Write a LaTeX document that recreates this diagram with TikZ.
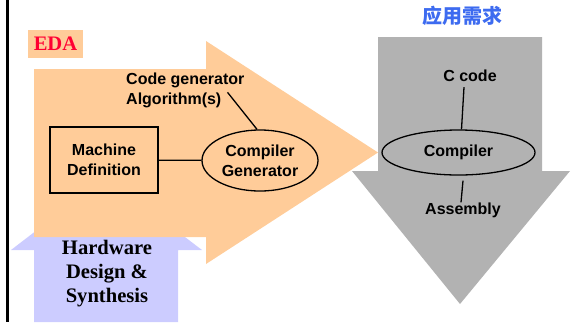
\documentclass[tikz,border=0pt]{standalone}
\usepackage{fontspec}
\setmainfont{Liberation Serif}
\setsansfont{Liberation Sans}
\newfontfamily\cjkfont{Noto Sans CJK SC}
\usepackage{xcolor}
\usetikzlibrary{shapes.geometric}
\definecolor{edaorange}{HTML}{FFCC99}
\definecolor{hwblue}{HTML}{CCCCFF}
\definecolor{appgray}{HTML}{B2B2B2}
\definecolor{edared}{HTML}{FF0033}
\definecolor{titleblue}{HTML}{3D6BF0}
\tikzset{
    lbl/.style={font=\sffamily\bfseries\fontsize{16}{20}\selectfont, align=center, inner sep=0pt},
    machbox/.style={lbl, draw=black, line width=1.3pt, minimum width=108pt, minimum height=66pt},
    oval/.style={lbl, ellipse, draw=black, line width=1.3pt},
    wire/.style={black, line width=1.3pt},
    serifbig/.style={font=\rmfamily\bfseries\fontsize{20.6}{24}\selectfont, align=center, inner sep=0pt}
}

\begin{document}
\begin{tikzpicture}[x=1pt,y=-1pt]
    \useasboundingbox (0,0) rectangle (577,322);
    % Draw left border line
    \draw[black, line width=3pt] (7,0) -- (7,322);
    % Draw blue arrow (its tip lies under the orange one)
    \fill[hwblue] (34,322) -- (34,250) -- (11,250) -- (106,177) -- (202,250) -- (178,250) -- (178,322) -- cycle;
    % Draw orange arrow
    \fill[edaorange] (34,69) -- (206,69) -- (206,41) -- (378,152.5) -- (206,264) -- (206,237) -- (34,237) -- cycle;
    % Draw gray arrow
    \fill[appgray] (378,37) -- (542,37) -- (542,171) -- (570,171) -- (460,304) -- (352,171) -- (378,171) -- cycle;
    % Labels of the arrows
    \node[serifbig, fill=edaorange, text=edared, minimum width=55pt, minimum height=28pt] (eda) at (55.5,44) {EDA};
    \node[font=\cjkfont\bfseries\fontsize{20}{24}\selectfont, text=titleblue, inner sep=0pt] (title) at (462,16) {应用需求};
    \node[serifbig, text=black] (hw) at (107,274) {Hardware\\Design \&\\Synthesis};
    % EDA side
    \node[machbox] (mach) at (104,160) {Machine\\Definition};
    \node[oval, minimum width=116pt, minimum height=61pt] (cgen) at (260,160.5) {Compiler\\Generator};
    \node[lbl, anchor=west] (codegen) at (126,80) {Code generator};
    \node[lbl, anchor=west] (algo) at (126,100) {Algorithm(s)};
    \draw[wire] (mach) -- (cgen);
    \draw[wire] ([xshift=6pt]algo.north east) -- ([xshift=-3pt]cgen.north);
    % Application side
    \node[oval, minimum width=153pt, minimum height=45pt] (comp) at (458.5,152.5) {Compiler};
    \node[lbl] (ccode) at (470,76) {C code};
    \node[lbl] (asm) at (463,210) {Assembly};
    \draw[wire] ([shift={(-6pt,-5pt)}]ccode.south) -- ([xshift=3pt]comp.north);
    \draw[wire] ([yshift=-5pt]asm.north |- comp.south) -- ([xshift=-2pt]asm.north);
\end{tikzpicture}
\end{document}
